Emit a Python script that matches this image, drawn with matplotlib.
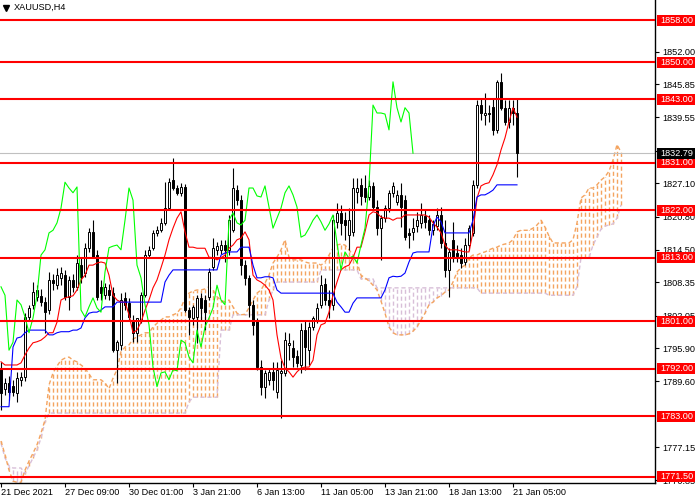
import matplotlib
matplotlib.use("Agg")
import matplotlib.pyplot as plt
from matplotlib.patches import Rectangle
from matplotlib.collections import LineCollection
from matplotlib.transforms import blended_transform_factory
import numpy as np

plt.rcParams['font.family'] = ['Liberation Sans', 'DejaVu Sans']

chart_title = "XAUUSD,H4"

opens = [
    1792.1, 1788.2, 1789.3, 1788.7, 1787.4, 1789.9, 1790.4, 1801.8, 1804.1, 1805.6,
    1805.8, 1804.6, 1803.1, 1808.8, 1807.8, 1809.2, 1809.7, 1805.6, 1808.8, 1807.5,
    1811.6, 1810.1, 1814.9, 1817.9, 1813.5, 1807.5, 1805.9, 1806.9, 1806.3, 1795.5,
    1796.5, 1805.4, 1804.4, 1801.2, 1798.8, 1801.2, 1805.9, 1813.5, 1814.9, 1817.7,
    1818.2, 1819.6, 1822.4, 1827.7, 1826.2, 1825.3, 1826.4, 1803.1, 1801.6, 1801.8,
    1805.4, 1805.0, 1805.6, 1811.2, 1814.5, 1814.5, 1815.4, 1814.5, 1818.2, 1825.8,
    1823.9, 1811.6, 1809.2, 1804.1, 1801.2, 1792.3, 1788.6, 1789.9, 1791.4, 1787.6,
    1791.2, 1791.2, 1796.5, 1795.9, 1794.4, 1792.7, 1799.3, 1795.5, 1799.9, 1801.2,
    1804.1, 1808.0, 1805.0, 1804.1, 1819.7, 1821.5, 1820.1, 1817.3, 1817.8, 1825.4,
    1826.8, 1826.2, 1824.5, 1826.6, 1822.6, 1818.6, 1820.5, 1822.4, 1825.3, 1823.6,
    1824.9, 1823.9, 1817.7, 1817.9, 1819.0, 1819.6, 1820.9, 1820.1, 1818.2, 1819.0,
    1821.1, 1815.8, 1810.7, 1816.4, 1813.9, 1813.5, 1812.2, 1815.4, 1817.7, 1826.8,
    1841.9, 1840.0, 1840.4, 1841.5, 1837.2, 1846.3, 1841.4, 1838.7, 1841.4, 1840.4,
]
highs = [
    1793.3, 1790.2, 1790.6, 1789.9, 1791.4, 1791.4, 1802.5, 1804.1, 1808.4, 1807.8,
    1807.1, 1805.6, 1810.3, 1809.9, 1811.1, 1811.2, 1810.7, 1809.5, 1809.9, 1813.5,
    1812.9, 1815.8, 1818.6, 1820.1, 1814.5, 1808.8, 1808.2, 1808.0, 1807.5, 1797.4,
    1806.3, 1806.5, 1805.4, 1802.2, 1801.6, 1806.5, 1814.5, 1815.2, 1818.2, 1819.0,
    1820.5, 1827.3, 1828.1, 1831.9, 1826.8, 1827.2, 1827.0, 1803.7, 1804.1, 1805.9,
    1806.3, 1805.9, 1811.1, 1816.7, 1816.0, 1816.4, 1816.4, 1821.1, 1830.0, 1826.8,
    1824.9, 1812.6, 1809.7, 1805.0, 1801.6, 1793.6, 1791.8, 1792.1, 1793.3, 1793.3,
    1793.6, 1798.9, 1798.8, 1797.4, 1795.5, 1800.6, 1801.2, 1800.8, 1802.0, 1804.4,
    1809.7, 1809.2, 1806.9, 1821.1, 1823.4, 1823.0, 1821.6, 1822.4, 1828.1, 1828.1,
    1828.1, 1828.7, 1827.7, 1827.3, 1823.9, 1821.1, 1823.0, 1825.8, 1827.3, 1825.8,
    1827.2, 1824.9, 1818.6, 1820.5, 1821.6, 1823.4, 1822.0, 1821.1, 1820.1, 1822.4,
    1822.6, 1820.1, 1814.8, 1819.8, 1815.4, 1814.8, 1816.7, 1819.2, 1827.7, 1842.9,
    1843.2, 1844.2, 1841.9, 1843.2, 1846.6, 1848.0, 1842.9, 1842.9, 1842.9, 1843.2,
]
lows = [
    1784.2, 1787.0, 1786.1, 1786.8, 1785.7, 1788.7, 1789.7, 1801.0, 1803.3, 1804.8,
    1803.9, 1798.8, 1802.3, 1806.9, 1807.1, 1807.8, 1805.0, 1803.1, 1806.5, 1806.9,
    1808.2, 1809.4, 1814.1, 1812.9, 1805.0, 1805.0, 1805.2, 1805.0, 1795.2, 1789.3,
    1795.5, 1803.1, 1801.2, 1797.0, 1797.0, 1800.6, 1805.6, 1812.9, 1814.5, 1817.1,
    1817.9, 1819.2, 1822.0, 1825.8, 1824.9, 1824.7, 1802.7, 1798.4, 1800.3, 1796.9,
    1801.2, 1799.3, 1805.0, 1810.7, 1813.5, 1813.7, 1812.2, 1813.5, 1817.9, 1823.0,
    1809.7, 1807.8, 1801.8, 1798.4, 1791.8, 1787.0, 1786.4, 1788.9, 1788.0, 1786.4,
    1782.7, 1790.6, 1793.6, 1792.3, 1792.3, 1791.2, 1791.8, 1792.7, 1799.3, 1800.6,
    1803.5, 1804.1, 1801.6, 1803.1, 1818.6, 1817.3, 1816.4, 1814.5, 1817.1, 1823.4,
    1823.0, 1823.6, 1823.9, 1822.0, 1817.3, 1812.6, 1819.8, 1821.7, 1824.5, 1823.0,
    1818.8, 1816.4, 1814.8, 1816.4, 1817.9, 1818.6, 1818.6, 1817.3, 1817.3, 1818.2,
    1814.8, 1809.4, 1805.6, 1812.2, 1812.2, 1811.1, 1811.6, 1814.5, 1817.1, 1826.2,
    1839.1, 1838.1, 1838.7, 1836.2, 1836.6, 1841.0, 1838.1, 1837.6, 1838.1, 1828.3,
]
closes = [
    1787.4, 1789.3, 1787.6, 1787.6, 1790.2, 1790.4, 1801.8, 1803.5, 1806.5, 1806.9,
    1804.6, 1802.7, 1808.8, 1808.2, 1809.7, 1810.1, 1805.6, 1808.8, 1807.5, 1812.0,
    1809.4, 1814.9, 1817.9, 1813.1, 1805.6, 1806.3, 1807.5, 1805.9, 1795.5, 1797.0,
    1805.0, 1804.1, 1801.8, 1798.8, 1801.6, 1805.9, 1813.5, 1814.5, 1817.7, 1818.2,
    1819.6, 1822.4, 1827.3, 1826.2, 1825.3, 1826.4, 1803.1, 1801.8, 1803.7, 1805.4,
    1803.5, 1802.7, 1810.3, 1814.9, 1815.2, 1815.4, 1814.5, 1820.1, 1826.2, 1823.9,
    1811.6, 1809.2, 1804.1, 1800.3, 1792.3, 1788.6, 1791.2, 1791.4, 1789.9, 1791.8,
    1791.6, 1797.4, 1796.9, 1794.2, 1793.1, 1799.3, 1796.1, 1799.9, 1801.6, 1803.5,
    1807.8, 1805.0, 1804.1, 1820.1, 1821.5, 1819.6, 1819.2, 1820.1, 1826.2, 1826.2,
    1824.7, 1824.5, 1826.6, 1822.6, 1818.6, 1820.5, 1822.4, 1825.3, 1826.6, 1824.9,
    1822.6, 1816.9, 1817.3, 1818.6, 1820.1, 1821.1, 1819.8, 1818.2, 1819.4, 1821.1,
    1815.8, 1810.7, 1814.1, 1812.9, 1813.3, 1812.0, 1815.4, 1818.6, 1826.8, 1841.9,
    1840.4, 1840.4, 1840.2, 1837.2, 1846.3, 1841.4, 1838.7, 1841.4, 1840.4, 1832.79,
]

tenkan = [
    1793.3, 1792.7, 1792.7, 1792.7, 1792.7, 1793.1, 1794.6, 1795.9, 1796.9, 1797.1,
    1797.4, 1798.0, 1798.8, 1798.8, 1800.8, 1805.0, 1805.4, 1805.6, 1805.8, 1806.9,
    1808.8, 1809.7, 1811.6, 1811.6, 1812.0, 1812.2, 1812.0, 1809.7, 1805.9, 1805.0,
    1804.6, 1804.6, 1802.2, 1798.8, 1799.3, 1800.8, 1803.1, 1805.0, 1807.3, 1808.8,
    1811.1, 1813.5, 1816.4, 1818.6, 1820.5, 1821.7, 1817.9, 1815.0, 1815.0, 1814.8,
    1814.8, 1814.8, 1813.1, 1813.0, 1812.6, 1813.0, 1813.5, 1814.8, 1815.4, 1816.4,
    1816.7, 1817.9, 1816.4, 1809.7, 1808.8, 1808.4, 1807.8, 1806.9, 1805.0, 1798.4,
    1794.0, 1792.1, 1791.4, 1790.4, 1791.4, 1792.1, 1792.3, 1792.3, 1793.6, 1798.4,
    1800.3, 1800.6, 1802.7, 1805.9, 1808.4, 1810.7, 1811.3, 1811.6, 1813.0, 1815.0,
    1815.0, 1817.9, 1821.1, 1821.7, 1821.5, 1820.7, 1820.5, 1820.5, 1820.1, 1820.5,
    1820.5, 1821.1, 1821.1, 1821.1, 1821.1, 1821.1, 1821.1, 1820.7, 1819.6, 1818.8,
    1817.7, 1815.4, 1814.5, 1814.5, 1814.5, 1814.3, 1814.1, 1814.1, 1817.9, 1824.3,
    1826.6, 1827.0, 1827.2, 1828.7, 1830.6, 1833.4, 1835.7, 1838.7, 1841.4, 1839.6,
]
kijun = [
    1784.8, 1784.8, 1784.8, 1796.1, 1797.8, 1798.0, 1798.8, 1799.3, 1799.3, 1799.3,
    1799.3, 1799.3, 1798.4, 1798.4, 1798.8, 1799.0, 1799.0, 1799.0, 1799.3, 1799.3,
    1799.7, 1801.6, 1802.5, 1802.7, 1802.7, 1803.1, 1803.7, 1803.7, 1803.7, 1804.6,
    1804.6, 1804.6, 1804.6, 1804.6, 1804.6, 1804.6, 1804.6, 1804.6, 1804.6, 1804.6,
    1804.6, 1808.4, 1809.7, 1810.7, 1810.7, 1810.7, 1810.7, 1810.7, 1810.7, 1810.7,
    1810.7, 1810.7, 1810.7, 1810.7, 1810.7, 1813.5, 1813.9, 1814.1, 1814.1, 1814.1,
    1815.0, 1815.0, 1815.0, 1811.6, 1809.2, 1809.2, 1809.4, 1809.4, 1809.2, 1806.9,
    1806.3, 1806.3, 1806.3, 1806.3, 1806.3, 1806.3, 1806.3, 1806.3, 1806.3, 1806.3,
    1806.3, 1806.3, 1806.3, 1806.3, 1804.6, 1803.7, 1802.7, 1802.7, 1804.4, 1805.4,
    1805.4, 1805.4, 1805.4, 1805.4, 1805.4, 1805.4, 1806.9, 1809.2, 1809.5, 1809.4,
    1809.5, 1810.1, 1812.2, 1813.9, 1814.1, 1814.1, 1814.1, 1814.1, 1819.0, 1820.7,
    1819.8, 1817.7, 1817.7, 1817.7, 1817.7, 1817.7, 1817.7, 1817.7, 1820.1, 1824.5,
    1824.9, 1824.9, 1825.3, 1825.8, 1826.8, 1826.8, 1826.8, 1826.8, 1826.8, 1826.8,
]
span_a = [
    1778.3, 1775.7, 1772.8, 1770.7, 1770.5, 1770.5, 1772.8, 1774.5, 1776.0, 1777.6,
    1779.8, 1782.3, 1788.9, 1791.2, 1792.5, 1793.6, 1794.0, 1794.2, 1793.6, 1793.3,
    1792.7, 1792.1, 1791.0, 1789.9, 1789.9, 1789.9, 1789.3, 1788.2, 1790.2, 1791.8,
    1795.2, 1796.1, 1796.5, 1797.6, 1798.0, 1798.4, 1798.8, 1798.8, 1799.9, 1800.6,
    1801.2, 1801.8, 1801.8, 1802.2, 1802.5, 1803.5, 1805.4, 1806.3, 1806.7, 1806.9,
    1806.9, 1807.1, 1807.5, 1806.9, 1805.6, 1805.0, 1804.6, 1805.0, 1803.7, 1802.5,
    1802.2, 1802.3, 1803.5, 1805.0, 1806.3, 1806.9, 1808.2, 1809.7, 1812.0, 1813.1,
    1814.5, 1816.4, 1813.1, 1812.6, 1812.6, 1812.6, 1812.2, 1812.0, 1812.0, 1812.0,
    1811.6, 1812.2, 1813.5, 1814.8, 1815.4, 1815.6, 1815.4, 1814.5, 1813.5, 1812.2,
    1809.7, 1809.2, 1808.6, 1807.8, 1806.9, 1804.8, 1802.5, 1799.9, 1798.8, 1798.4,
    1798.4, 1798.4, 1798.6, 1799.1, 1799.9, 1801.2, 1802.5, 1804.1, 1804.6, 1805.4,
    1805.8, 1806.5, 1806.9, 1808.4, 1810.3, 1811.1, 1811.6, 1813.0, 1813.5, 1813.5,
    1813.9, 1814.1, 1814.5, 1814.8, 1815.0, 1815.4, 1815.6, 1815.8, 1816.4, 1817.9,
    1818.2, 1818.2, 1818.2, 1818.6, 1819.2, 1820.1, 1818.8, 1817.1, 1815.8, 1815.8,
    1815.8, 1815.8, 1815.8, 1816.4, 1819.6, 1824.3, 1824.9, 1826.2, 1826.2, 1826.8,
    1827.7, 1828.3, 1829.4, 1831.5, 1834.4, 1833.0,
]
span_b = [
    1777.9, 1775.1, 1773.6, 1773.2, 1773.2, 1773.2, 1772.1, 1773.6, 1775.1, 1776.6,
    1778.9, 1781.9, 1783.6, 1783.6, 1783.6, 1783.6, 1783.6, 1783.6, 1783.6, 1783.6,
    1783.6, 1783.6, 1783.6, 1783.6, 1783.6, 1783.6, 1783.6, 1783.6, 1783.6, 1783.6,
    1783.6, 1783.6, 1783.6, 1783.6, 1783.6, 1783.6, 1783.6, 1783.6, 1783.6, 1783.6,
    1783.6, 1783.6, 1783.6, 1783.6, 1783.6, 1783.6, 1783.6, 1785.7, 1786.6, 1786.6,
    1786.6, 1786.6, 1786.6, 1786.6, 1786.6, 1799.3, 1799.3, 1799.3, 1802.2, 1802.2,
    1802.2, 1802.2, 1802.2, 1802.2, 1802.2, 1802.2, 1802.2, 1805.0, 1806.9, 1808.4,
    1808.4, 1808.4, 1808.4, 1808.4, 1808.4, 1808.4, 1808.4, 1808.4, 1808.4, 1808.4,
    1810.7, 1810.7, 1810.7, 1810.7, 1810.7, 1810.7, 1810.7, 1810.7, 1810.7, 1810.7,
    1809.0, 1809.0, 1809.0, 1809.0, 1807.3, 1807.3, 1807.3, 1807.3, 1807.3, 1807.3,
    1807.3, 1807.3, 1807.3, 1807.3, 1807.3, 1807.3, 1807.3, 1807.3, 1807.3, 1807.3,
    1807.3, 1807.3, 1807.3, 1807.3, 1807.3, 1807.3, 1807.3, 1807.3, 1807.3, 1807.3,
    1806.3, 1806.3, 1806.3, 1806.3, 1806.3, 1806.3, 1806.3, 1806.3, 1806.3, 1806.3,
    1806.3, 1806.3, 1806.3, 1806.3, 1806.3, 1806.3, 1806.3, 1805.9, 1805.9, 1805.9,
    1805.9, 1805.9, 1805.9, 1805.9, 1807.5, 1813.0, 1813.0, 1813.0, 1815.4, 1816.9,
    1818.4, 1819.0, 1819.2, 1819.4, 1820.5, 1823.0,
]

levels = [1858.00, 1850.00, 1843.00, 1831.00, 1822.00, 1813.00, 1801.00, 1792.00, 1783.00, 1771.50]
current_price = 1832.79
price_ticks = [1852.00, 1845.85, 1839.55, 1833.25, 1827.10, 1820.80, 1814.50,
               1808.35, 1802.05, 1795.90, 1789.60, 1777.15, 1770.85]
time_label_bars = [0, 16, 32, 48, 64, 80, 96, 112, 128]
time_labels = ["21 Dec 2021", "27 Dec 09:00", "30 Dec 01:00", "3 Jan 21:00", "6 Jan 13:00",
               "11 Jan 05:00", "13 Jan 21:00", "18 Jan 13:00", "21 Jan 05:00"]
chikou_shift = 26

W, H = 700, 500
AX_W, AX_H = 655, 483
Y_TOP, Y_BOT = 1861.79, 1770.36
fig = plt.figure(figsize=(W / 100, H / 100), dpi=100)
ax = fig.add_axes([0, (H - AX_H) / H, AX_W / W, AX_H / H])
ax.set_xlim(-0.25, 163.5)
ax.set_ylim(Y_BOT, Y_TOP)

for s in ['left', 'top']:
    ax.spines[s].set_visible(False)
for s in ['right', 'bottom']:
    ax.spines[s].set_color('black')
    ax.spines[s].set_linewidth(1.0)

FS = 6.6
ax.yaxis.tick_right()
ax.set_yticks(price_ticks)
ax.set_yticklabels([f"{v:.2f}" for v in price_ticks])
ax.tick_params(axis='y', length=3, width=0.8, pad=2.2, labelsize=FS, colors='black')
ax.set_xticks(time_label_bars)
ax.set_xticklabels(time_labels, ha='left')
ax.tick_params(axis='x', length=3, width=0.8, pad=0.5, labelsize=FS, colors='black')

SANDY = (0.957, 0.643, 0.376)   # sandybrown
THISTLE = (0.847, 0.749, 0.847)  # thistle
dash = (0, (3.0, 2.0))

# Ichimoku cloud: one dotted vertical stroke per bar between span A and span B
xa = np.arange(len(span_a))
a = np.array(span_a)
b = np.array(span_b)
bull = a >= b
for mask, colr in ((bull, SANDY), (~bull, THISTLE)):
    segs = [[(xi, lo), (xi, hi)] for xi, lo, hi in
            zip(xa[mask], np.minimum(a, b)[mask], np.maximum(a, b)[mask])]
    lc = LineCollection(segs, colors=[colr], linewidths=1.0, linestyles=[dash],
                        antialiaseds=[True], zorder=1)
    ax.add_collection(lc)
ax.plot(xa, b, color=THISTLE, ls=dash, lw=1.0, zorder=1.1)
ax.plot(xa, a, color=SANDY, ls=dash, lw=1.0, zorder=1.2)

# current price line
ax.axhline(current_price, color='#C0C0C0', lw=0.8, zorder=1.5)

# candles
x = np.arange(len(opens))
o = np.array(opens)
c = np.array(closes)
h = np.array(highs)
l = np.array(lows)
ax.vlines(x, l, h, color='black', lw=0.8, zorder=3)
up = c >= o
body_bottom = np.minimum(o, c)
body_h = np.maximum(np.abs(c - o), 0.12)
ax.bar(x, body_h, width=0.55, bottom=body_bottom,
       color=['white' if u else 'black' for u in up],
       edgecolor='black', linewidth=0.7, zorder=4)

# indicator lines
ax.plot(x, tenkan, color='#FF0000', lw=0.8, zorder=5)
ax.plot(x, kijun, color='#0000FF', lw=0.8, zorder=5)
ax.plot(x[:-chikou_shift], c[chikou_shift:], color='#00FF00', lw=0.8, zorder=5)

# horizontal levels
for v in levels:
    ax.axhline(v, color='#FF0000', lw=1.5, zorder=6)

# right-side price labels
trans = blended_transform_factory(ax.transAxes, ax.transData)
px = 1.0 / AX_W
box_h = 11.0 / (AX_H / (Y_TOP - Y_BOT))
for v in levels:
    ax.add_patch(Rectangle((1 + 2 * px, v - box_h / 2), 38 * px, box_h, transform=trans,
                           facecolor='#FF0000', edgecolor='none', clip_on=False, zorder=10))
    ax.text(1 + 5 * px, v, f"{v:.2f}", transform=trans, color='white', fontsize=FS,
            va='center', ha='left', clip_on=False, zorder=11)
ax.add_patch(Rectangle((1 + 2 * px, current_price - box_h / 2), 38 * px, box_h, transform=trans,
                       facecolor='black', edgecolor='none', clip_on=False, zorder=10))
ax.text(1 + 5 * px, current_price, f"{current_price:.2f}", transform=trans, color='white',
        fontsize=FS, va='center', ha='left', clip_on=False, zorder=11)

# title
ax.plot([5.5 * px], [1 - 7.5 / AX_H], marker='v', ms=4, color='black',
        transform=ax.transAxes, clip_on=False, zorder=12)
ax.text(14 * px, 1 - 7.5 / AX_H, chart_title, transform=ax.transAxes, fontsize=FS,
        va='center', ha='left', color='black', zorder=12)

fig.savefig("out.png", dpi=100)
